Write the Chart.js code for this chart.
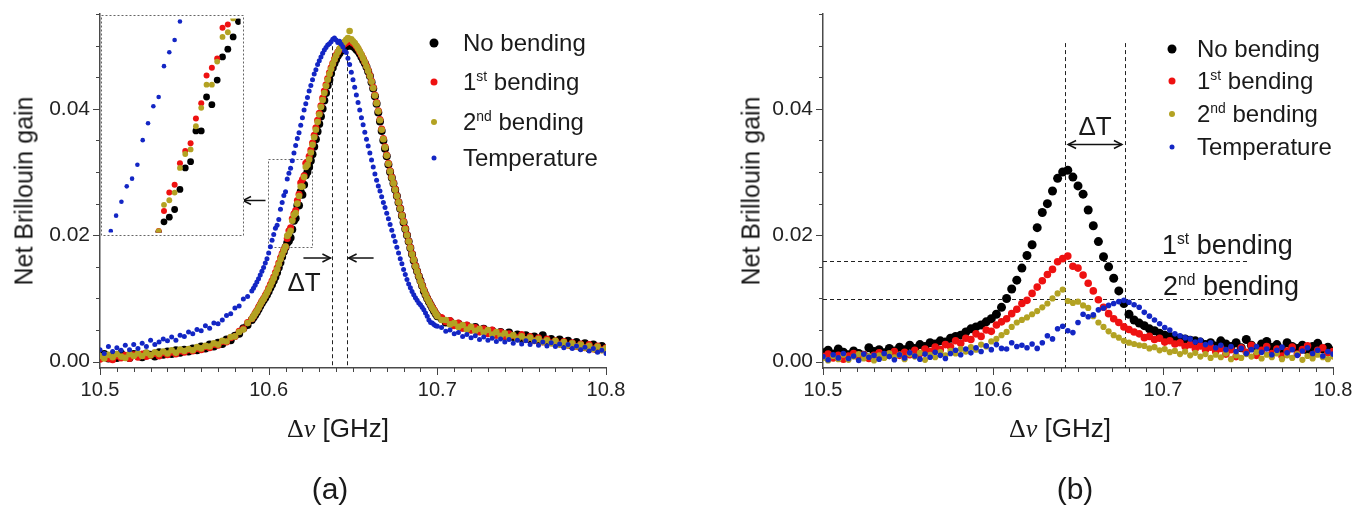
<!DOCTYPE html>
<html>
<head>
<meta charset="utf-8">
<title>Net Brillouin gain</title>
<script src="https://cdn.jsdelivr.net/npm/chart.js@4.4.1/dist/chart.umd.min.js"></script>
<style>
  body { margin: 0; background: #fff; }
  #page { position: relative; width: 1364px; height: 509px; overflow: hidden; background: #fff;
          font-family: "Liberation Sans", Arial, sans-serif; color: #1a1a1a; }
  canvas { position: absolute; top: 0; }
  .t { position: absolute; white-space: nowrap; line-height: 1; transform: translate(-50%, -50%); }
  .l { position: absolute; white-space: nowrap; line-height: 1; transform: translateY(-50%); font-size: 24px; }
  .ylab { transform: translate(-50%, -50%) rotate(-90deg); font-size: 25px; }
  .xlab { font-size: 26px; }
  .sym { font-family: "Liberation Serif", "DejaVu Serif", serif; }
  .panel { font-size: 30px; }
  .dot { position: absolute; border-radius: 50%; transform: translate(-50%, -50%); }
  sup { font-size: 0.58em; vertical-align: 0.62em; line-height: 0; }
</style>
</head>
<body>
<div id="page">
  <canvas id="chartA" width="682" height="509" style="left:0"></canvas>
  <canvas id="chartB" width="682" height="509" style="left:682px"></canvas>
  <canvas id="insetA" width="143" height="221" style="left:101px;top:15px"></canvas>

  <!-- axis titles -->
  <div class="t ylab" style="left:24px;top:191px">Net Brillouin gain</div>
  <div class="t ylab" style="left:751px;top:191px">Net Brillouin gain</div>
  <div class="t xlab" style="left:338px;top:428px"><span class="sym">Δ<i>ν</i></span> [GHz]</div>
  <div class="t xlab" style="left:1060px;top:428px"><span class="sym">Δ<i>ν</i></span> [GHz]</div>
  <div class="t panel" style="left:330px;top:489px">(a)</div>
  <div class="t panel" style="left:1075px;top:489px">(b)</div>

  <!-- legend (a) -->
  <div class="dot" style="left:434px;top:43px;width:9px;height:9px;background:#000"></div>
  <div class="dot" style="left:434px;top:82px;width:7px;height:7px;background:#ee1111"></div>
  <div class="dot" style="left:434px;top:122px;width:6px;height:6px;background:#b3a222"></div>
  <div class="dot" style="left:434px;top:158px;width:5px;height:5px;background:#1326c4"></div>
  <div class="l" style="left:463px;top:43px">No bending</div>
  <div class="l" style="left:463px;top:82px">1<sup>st</sup> bending</div>
  <div class="l" style="left:463px;top:122px">2<sup>nd</sup> bending</div>
  <div class="l" style="left:463px;top:158px">Temperature</div>

  <!-- legend (b) -->
  <div class="dot" style="left:1172px;top:49px;width:9px;height:9px;background:#000"></div>
  <div class="dot" style="left:1172px;top:81px;width:7px;height:7px;background:#ee1111"></div>
  <div class="dot" style="left:1172px;top:114px;width:6px;height:6px;background:#b3a222"></div>
  <div class="dot" style="left:1172px;top:147px;width:5px;height:5px;background:#1326c4"></div>
  <div class="l" style="left:1197px;top:49px">No bending</div>
  <div class="l" style="left:1197px;top:81px">1<sup>st</sup> bending</div>
  <div class="l" style="left:1197px;top:114px">2<sup>nd</sup> bending</div>
  <div class="l" style="left:1197px;top:147px">Temperature</div>

  <!-- annotations -->
  <div class="t xlab" style="left:304px;top:282px">ΔT</div>
  <div class="t xlab" style="left:1095px;top:126px">ΔT</div>
  <div class="l" style="left:1162px;top:245px;font-size:27px">1<sup>st</sup> bending</div>
  <div class="l" style="left:1163px;top:286px;font-size:27px">2<sup>nd</sup> bending</div>
</div>

<script>
/**
 * Net Brillouin gain spectra, (a) and (b)
 */

// ---- axes ----
const xTicks = [10.5, 10.6, 10.7, 10.8];
const yTicks = [0.00, 0.02, 0.04];

// ---- panel (a): frequency grid [GHz] ----
const freqA = [
    // left tail
    10.5000, 10.5025, 10.5050, 10.5075, 10.5100, 10.5125, 10.5150, 10.5175, 10.5200, 10.5225,
    10.5250, 10.5275, 10.5300, 10.5325, 10.5350, 10.5375, 10.5400, 10.5425, 10.5450, 10.5475,
    10.5500, 10.5525, 10.5550, 10.5575, 10.5600, 10.5625, 10.5650, 10.5675, 10.5700, 10.5725,
    10.5750, 10.5775, 10.5800, 10.5825, 10.5850, 10.5875,
    // peak region
    10.590, 10.591, 10.592, 10.593, 10.594, 10.595, 10.596, 10.597, 10.598, 10.599,
    10.600, 10.601, 10.602, 10.603, 10.604, 10.605, 10.606, 10.607, 10.608, 10.609,
    10.610, 10.611, 10.612, 10.613, 10.614, 10.615, 10.616, 10.617, 10.618, 10.619,
    10.620, 10.621, 10.622, 10.623, 10.624, 10.625, 10.626, 10.627, 10.628, 10.629,
    10.630, 10.631, 10.632, 10.633, 10.634, 10.635, 10.636, 10.637, 10.638, 10.639,
    10.640, 10.641, 10.642, 10.643, 10.644, 10.645, 10.646, 10.647, 10.648, 10.649,
    10.650, 10.651, 10.652, 10.653, 10.654, 10.655, 10.656, 10.657, 10.658, 10.659,
    10.660, 10.661, 10.662, 10.663, 10.664, 10.665, 10.666, 10.667, 10.668, 10.669,
    10.670, 10.671, 10.672, 10.673, 10.674, 10.675, 10.676, 10.677, 10.678, 10.679,
    10.680, 10.681, 10.682, 10.683, 10.684, 10.685, 10.686, 10.687, 10.688, 10.689,
    10.690, 10.691, 10.692, 10.693, 10.694, 10.695, 10.696, 10.697, 10.698, 10.699,
    10.700,
    // right tail
    10.7025, 10.7050, 10.7075, 10.7100, 10.7125, 10.7150, 10.7175, 10.7200, 10.7225, 10.7250,
    10.7275, 10.7300, 10.7325, 10.7350, 10.7375, 10.7400, 10.7425, 10.7450, 10.7475, 10.7500,
    10.7525, 10.7550, 10.7575, 10.7600, 10.7625, 10.7650, 10.7675, 10.7700, 10.7725, 10.7750,
    10.7775, 10.7800, 10.7825, 10.7850, 10.7875, 10.7900, 10.7925, 10.7950, 10.7975, 10.8000
];

const noBendA = [
    0.0007, 0.0012, 0.0005, 0.0010, 0.0006, 0.0013, 0.0009, 0.0006, 0.0012, 0.0010,
    0.0007, 0.0013, 0.0011, 0.0008, 0.0015, 0.0011, 0.0016, 0.0012, 0.0018, 0.0014,
    0.0019, 0.0016, 0.0021, 0.0018, 0.0024, 0.0021, 0.0027, 0.0024, 0.0030, 0.0028,
    0.0035, 0.0034, 0.0041, 0.0044, 0.0053, 0.0058,

    0.0066, 0.0070, 0.0074, 0.0078, 0.0083, 0.0088, 0.0093, 0.0097, 0.0101, 0.0106,
    0.0111, 0.0117, 0.0122, 0.0128, 0.0134, 0.0141, 0.0149, 0.0157, 0.0166, 0.0174,
    0.0181, 0.0188, 0.0191, 0.0196, 0.0209, 0.0223, 0.0227, 0.0247, 0.0247, 0.0269,
    0.0264, 0.0280, 0.0295, 0.0300, 0.0308, 0.0318, 0.0328, 0.0340, 0.0352, 0.0364,
    0.0376, 0.0388, 0.0400, 0.0413, 0.0425, 0.0437, 0.0446, 0.0456, 0.0465, 0.0472,
    0.0478, 0.0484, 0.0488, 0.0492, 0.0495, 0.0497, 0.0499, 0.0500, 0.0500, 0.0500,
    0.0499, 0.0497, 0.0494, 0.0491, 0.0487, 0.0482, 0.0477, 0.0472, 0.0466, 0.0459,
    0.0452, 0.0442, 0.0432, 0.0420, 0.0408, 0.0394, 0.0380, 0.0365, 0.0350, 0.0337,
    0.0325, 0.0312, 0.0300, 0.0291, 0.0282, 0.0272, 0.0262, 0.0252, 0.0242, 0.0231,
    0.0220, 0.0210, 0.0200, 0.0190, 0.0180, 0.0170, 0.0160, 0.0151, 0.0143, 0.0135,
    0.0128, 0.0120, 0.0112, 0.0106, 0.0100, 0.0095, 0.0090, 0.0085, 0.0080, 0.0076,
    0.0072,

    0.0068, 0.0062, 0.0064, 0.0058, 0.0060, 0.0054, 0.0057, 0.0051, 0.0055, 0.0048,
    0.0052, 0.0046, 0.0049, 0.0043, 0.0047, 0.0041, 0.0046, 0.0039, 0.0043, 0.0036,
    0.0042, 0.0035, 0.0040, 0.0033, 0.0042, 0.0031, 0.0036, 0.0029, 0.0035, 0.0027,
    0.0033, 0.0025, 0.0031, 0.0023, 0.0029, 0.0021, 0.0027, 0.0019, 0.0025, 0.0020
];

const bend1A = [
    0.0004, 0.0008, 0.0005, 0.0003, 0.0009, 0.0006, 0.0010, 0.0005, 0.0011, 0.0007,
    0.0012, 0.0008, 0.0010, 0.0013, 0.0009, 0.0014, 0.0011, 0.0015, 0.0012, 0.0017,
    0.0015, 0.0019, 0.0017, 0.0021, 0.0019, 0.0024, 0.0022, 0.0027, 0.0026, 0.0032,
    0.0031, 0.0038, 0.0040, 0.0048, 0.0052, 0.0062,

    0.0068, 0.0072, 0.0077, 0.0081, 0.0086, 0.0091, 0.0096, 0.0100, 0.0105, 0.0110,
    0.0116, 0.0122, 0.0128, 0.0134, 0.0141, 0.0148, 0.0156, 0.0164, 0.0171, 0.0177,
    0.0182, 0.0195, 0.0207, 0.0212, 0.0226, 0.0234, 0.0239, 0.0255, 0.0265, 0.0283,
    0.0288, 0.0294, 0.0314, 0.0316, 0.0325, 0.0335, 0.0346, 0.0358, 0.0370, 0.0382,
    0.0393, 0.0405, 0.0417, 0.0428, 0.0438, 0.0448, 0.0457, 0.0465, 0.0472, 0.0479,
    0.0485, 0.0490, 0.0494, 0.0498, 0.0501, 0.0503, 0.0505, 0.0506, 0.0507, 0.0506,
    0.0504, 0.0502, 0.0499, 0.0495, 0.0490, 0.0485, 0.0480, 0.0474, 0.0468, 0.0461,
    0.0453, 0.0444, 0.0434, 0.0422, 0.0410, 0.0397, 0.0383, 0.0368, 0.0353, 0.0340,
    0.0327, 0.0314, 0.0302, 0.0292, 0.0283, 0.0273, 0.0263, 0.0253, 0.0243, 0.0232,
    0.0222, 0.0211, 0.0201, 0.0191, 0.0181, 0.0171, 0.0162, 0.0152, 0.0144, 0.0136,
    0.0128, 0.0121, 0.0114, 0.0107, 0.0101, 0.0096, 0.0091, 0.0086, 0.0082, 0.0077,
    0.0073,

    0.0070, 0.0063, 0.0065, 0.0057, 0.0061, 0.0053, 0.0058, 0.0050, 0.0054, 0.0047,
    0.0052, 0.0044, 0.0050, 0.0042, 0.0047, 0.0040, 0.0044, 0.0041, 0.0038, 0.0043,
    0.0035, 0.0040, 0.0033, 0.0038, 0.0031, 0.0036, 0.0030, 0.0033, 0.0028, 0.0032,
    0.0026, 0.0030, 0.0024, 0.0028, 0.0022, 0.0027, 0.0020, 0.0025, 0.0019, 0.0022
];

const bend2A = [
    0.0009, 0.0005, 0.0011, 0.0007, 0.0012, 0.0008, 0.0006, 0.0012, 0.0009, 0.0013,
    0.0009, 0.0014, 0.0010, 0.0015, 0.0012, 0.0016, 0.0013, 0.0018, 0.0014, 0.0019,
    0.0017, 0.0020, 0.0018, 0.0023, 0.0021, 0.0025, 0.0024, 0.0029, 0.0027, 0.0033,
    0.0032, 0.0039, 0.0040, 0.0047, 0.0051, 0.0061,

    0.0068, 0.0072, 0.0076, 0.0080, 0.0085, 0.0090, 0.0095, 0.0099, 0.0104, 0.0109,
    0.0114, 0.0120, 0.0126, 0.0132, 0.0139, 0.0146, 0.0154, 0.0162, 0.0169, 0.0176,
    0.0182, 0.0199, 0.0202, 0.0207, 0.0223, 0.0232, 0.0235, 0.0250, 0.0262, 0.0277,
    0.0277, 0.0292, 0.0308, 0.0311, 0.0320, 0.0331, 0.0343, 0.0355, 0.0367, 0.0379,
    0.0391, 0.0403, 0.0414, 0.0425, 0.0436, 0.0446, 0.0455, 0.0463, 0.0471, 0.0478,
    0.0484, 0.0490, 0.0495, 0.0499, 0.0503, 0.0506, 0.0509, 0.0512, 0.0523, 0.0510,
    0.0507, 0.0504, 0.0500, 0.0496, 0.0491, 0.0486, 0.0480, 0.0474, 0.0467, 0.0460,
    0.0452, 0.0443, 0.0433, 0.0421, 0.0409, 0.0396, 0.0382, 0.0367, 0.0352, 0.0339,
    0.0326, 0.0313, 0.0301, 0.0291, 0.0282, 0.0272, 0.0262, 0.0252, 0.0242, 0.0231,
    0.0221, 0.0210, 0.0200, 0.0190, 0.0180, 0.0170, 0.0161, 0.0151, 0.0143, 0.0135,
    0.0127, 0.0120, 0.0113, 0.0106, 0.0100, 0.0095, 0.0090, 0.0085, 0.0081, 0.0076,
    0.0072,

    0.0066, 0.0066, 0.0059, 0.0061, 0.0055, 0.0058, 0.0051, 0.0055, 0.0049, 0.0052,
    0.0046, 0.0050, 0.0043, 0.0047, 0.0041, 0.0045, 0.0039, 0.0042, 0.0036, 0.0040,
    0.0035, 0.0038, 0.0033, 0.0036, 0.0031, 0.0034, 0.0029, 0.0033, 0.0027, 0.0031,
    0.0026, 0.0029, 0.0024, 0.0027, 0.0022, 0.0025, 0.0020, 0.0024, 0.0018, 0.0021
];

const tempA = [
    0.0019, 0.0013, 0.0024, 0.0016, 0.0022, 0.0018, 0.0026, 0.0019, 0.0027, 0.0021,
    0.0029, 0.0024, 0.0034, 0.0027, 0.0031, 0.0036, 0.0033, 0.0039, 0.0034, 0.0042,
    0.0040, 0.0047, 0.0044, 0.0051, 0.0049, 0.0057, 0.0053, 0.0061, 0.0060, 0.0066,
    0.0073, 0.0076, 0.0085, 0.0088, 0.0099, 0.0103,

    0.0112, 0.0116, 0.0121, 0.0126, 0.0131, 0.0137, 0.0143, 0.0149, 0.0156, 0.0163,
    0.0172, 0.0182, 0.0192, 0.0201, 0.0211, 0.0216, 0.0225, 0.0241, 0.0252, 0.0263,
    0.0269, 0.0289, 0.0298, 0.0306, 0.0318, 0.0330, 0.0342, 0.0353, 0.0362, 0.0374,
    0.0386, 0.0398, 0.0408, 0.0418, 0.0428, 0.0437, 0.0446, 0.0455, 0.0462, 0.0470,
    0.0476, 0.0482, 0.0488, 0.0493, 0.0497, 0.0501, 0.0503, 0.0506, 0.0510, 0.0512,
    0.0509, 0.0505, 0.0507, 0.0502, 0.0498, 0.0492, 0.0489, 0.0480, 0.0470, 0.0458,
    0.0446, 0.0434, 0.0422, 0.0410, 0.0398, 0.0386, 0.0375, 0.0363, 0.0352, 0.0341,
    0.0330, 0.0319, 0.0308, 0.0297, 0.0287, 0.0278, 0.0270, 0.0261, 0.0252, 0.0244,
    0.0235, 0.0226, 0.0217, 0.0208, 0.0199, 0.0190, 0.0181, 0.0172, 0.0163, 0.0155,
    0.0146, 0.0138, 0.0130, 0.0123, 0.0117, 0.0111, 0.0106, 0.0101, 0.0097, 0.0093,
    0.0090, 0.0086, 0.0082, 0.0077, 0.0072, 0.0066, 0.0062, 0.0061, 0.0059, 0.0057,
    0.0056,

    0.0054, 0.0048, 0.0050, 0.0044, 0.0046, 0.0040, 0.0043, 0.0038, 0.0041, 0.0035,
    0.0039, 0.0034, 0.0037, 0.0032, 0.0036, 0.0031, 0.0035, 0.0029, 0.0034, 0.0028,
    0.0033, 0.0027, 0.0032, 0.0026, 0.0031, 0.0025, 0.0030, 0.0024, 0.0028, 0.0022,
    0.0027, 0.0021, 0.0025, 0.0019, 0.0023, 0.0017, 0.0021, 0.0015, 0.0018, 0.0013
];

// ---- panel (b): frequency grid [GHz] ----
const freqB = [
    10.500, 10.503, 10.506, 10.509, 10.512, 10.515, 10.518, 10.521, 10.524, 10.527,
    10.530, 10.533, 10.536, 10.539, 10.542, 10.545, 10.548, 10.551, 10.554, 10.557,
    10.560, 10.563, 10.566, 10.569, 10.572, 10.575, 10.578, 10.581, 10.584, 10.587,
    10.590, 10.593, 10.596, 10.599, 10.602, 10.605, 10.608, 10.611, 10.614, 10.617,
    10.620, 10.623, 10.626, 10.629, 10.632, 10.635, 10.638, 10.641, 10.644, 10.647,
    10.650, 10.653, 10.656, 10.659, 10.662, 10.665, 10.668, 10.671, 10.674, 10.677,
    10.680, 10.683, 10.686, 10.689, 10.692, 10.695, 10.698, 10.701, 10.704, 10.707,
    10.710, 10.713, 10.716, 10.719, 10.722, 10.725, 10.728, 10.731, 10.734, 10.737,
    10.740, 10.743, 10.746, 10.749, 10.752, 10.755, 10.758, 10.761, 10.764, 10.767,
    10.770, 10.773, 10.776, 10.779, 10.782, 10.785, 10.788, 10.791, 10.794, 10.797,
    10.800
];

const noBendB = [
    0.0014, 0.0018, 0.0012, 0.0020, 0.0015, 0.0011, 0.0017, 0.0013, 0.0010, 0.0022,
    0.0016, 0.0019, 0.0014, 0.0021, 0.0017, 0.0023, 0.0019, 0.0026, 0.0021, 0.0027,
    0.0024, 0.0030, 0.0028, 0.0033, 0.0031, 0.0037, 0.0040, 0.0042, 0.0047, 0.0052,
    0.0055, 0.0058, 0.0063, 0.0068, 0.0075, 0.0086, 0.0100, 0.0115, 0.0129, 0.0148,
    0.0168, 0.0185, 0.0212, 0.0236, 0.0250, 0.0270, 0.0290, 0.0300, 0.0303, 0.0292,
    0.0278, 0.0265, 0.0240, 0.0215, 0.0190, 0.0166, 0.0150, 0.0132, 0.0112, 0.0092,
    0.0075, 0.0066, 0.0061, 0.0057, 0.0052, 0.0049, 0.0045, 0.0042, 0.0040, 0.0038,
    0.0037, 0.0036, 0.0034, 0.0033, 0.0031, 0.0027, 0.0030, 0.0025, 0.0033, 0.0028,
    0.0024, 0.0030, 0.0022, 0.0035, 0.0026, 0.0021, 0.0028, 0.0032, 0.0023, 0.0027,
    0.0019, 0.0030, 0.0024, 0.0021, 0.0026, 0.0018, 0.0024, 0.0029, 0.0020, 0.0023,
    0.0017
];

const bend1B = [
    0.0008, 0.0012, 0.0006, 0.0010, 0.0004, 0.0009, 0.0013, 0.0007, 0.0011, 0.0005,
    0.0010, 0.0014, 0.0008, 0.0012, 0.0016, 0.0010, 0.0015, 0.0011, 0.0018, 0.0013,
    0.0020, 0.0016, 0.0023, 0.0019, 0.0027, 0.0024, 0.0033, 0.0029, 0.0037, 0.0035,
    0.0044, 0.0040, 0.0050, 0.0048, 0.0058, 0.0063, 0.0068, 0.0076, 0.0083, 0.0092,
    0.0097, 0.0108, 0.0118, 0.0128, 0.0138, 0.0146, 0.0158, 0.0163, 0.0167, 0.0151,
    0.0148, 0.0137, 0.0124, 0.0112, 0.0098, 0.0086, 0.0076, 0.0068, 0.0062, 0.0055,
    0.0051, 0.0047, 0.0044, 0.0038, 0.0040, 0.0035, 0.0037, 0.0031, 0.0033, 0.0028,
    0.0030, 0.0024, 0.0027, 0.0021, 0.0025, 0.0019, 0.0023, 0.0016, 0.0021, 0.0012,
    0.0019, 0.0008, 0.0022, 0.0015, 0.0026, 0.0010, 0.0018, 0.0024, 0.0013, 0.0020,
    0.0009, 0.0017, 0.0023, 0.0012, 0.0019, 0.0025, 0.0011, 0.0018, 0.0022, 0.0014,
    0.0016
];

const bend2B = [
    0.0006, 0.0002, 0.0009, 0.0004, 0.0011, 0.0003, 0.0008, 0.0012, 0.0005, 0.0009,
    0.0002, 0.0010, 0.0006, 0.0013, 0.0007, 0.0011, 0.0004, 0.0012, 0.0008, 0.0014,
    0.0003, 0.0011, 0.0007, 0.0015, 0.0010, 0.0017, 0.0013, 0.0020, 0.0016, 0.0023,
    0.0019, 0.0027, 0.0024, 0.0032, 0.0036, 0.0042, 0.0047, 0.0055, 0.0062, 0.0066,
    0.0070, 0.0075, 0.0080, 0.0086, 0.0092, 0.0100, 0.0108, 0.0114, 0.0096, 0.0093,
    0.0095, 0.0089, 0.0085, 0.0072, 0.0062, 0.0055, 0.0048, 0.0042, 0.0038, 0.0033,
    0.0030, 0.0028, 0.0026, 0.0025, 0.0021, 0.0023, 0.0018, 0.0020, 0.0015, 0.0017,
    0.0012, 0.0016, 0.0010, 0.0014, 0.0008, 0.0012, 0.0006, 0.0011, 0.0007, 0.0013,
    0.0004, 0.0010, 0.0006, 0.0012, 0.0008, 0.0015, 0.0005, 0.0011, 0.0007, 0.0013,
    0.0004, 0.0010, 0.0006, 0.0012, 0.0003, 0.0009, 0.0005, 0.0011, 0.0007, 0.0004,
    0.0008
];

const tempB = [
    0.0008, 0.0003, 0.0011, 0.0006, 0.0013, 0.0005, 0.0009, 0.0002, 0.0012, 0.0007,
    0.0010, 0.0004, 0.0013, 0.0008, 0.0003, 0.0011, 0.0006, 0.0014, 0.0009, 0.0004,
    0.0012, 0.0007, 0.0015, 0.0010, 0.0005, 0.0013, 0.0018, 0.0011, 0.0020, 0.0014,
    0.0022, 0.0016, 0.0025, 0.0019, 0.0027, 0.0021, 0.0020, 0.0030, 0.0024, 0.0026,
    0.0022, 0.0028, 0.0021, 0.0030, 0.0041, 0.0036, 0.0052, 0.0056, 0.0049, 0.0046,
    0.0062, 0.0075, 0.0071, 0.0074, 0.0082, 0.0085, 0.0089, 0.0092, 0.0095, 0.0097,
    0.0094, 0.0090, 0.0086, 0.0078, 0.0072, 0.0066, 0.0060, 0.0054, 0.0050, 0.0044,
    0.0041, 0.0038, 0.0036, 0.0031, 0.0034, 0.0027, 0.0030, 0.0022, 0.0026, 0.0019,
    0.0024, 0.0016, 0.0021, 0.0013, 0.0019, 0.0024, 0.0015, 0.0020, 0.0011, 0.0018,
    0.0023, 0.0014, 0.0019, 0.0010, 0.0017, 0.0022, 0.0013, 0.0018, 0.0009, 0.0016,
    0.0012
];

// ---- annotation positions (data units) ----
const shiftA = [10.6378, 10.6462];       // peak markers, panel (a)
const shiftTopA = 0.0499;
const arrowLevelA = 0.0164;
const zoomBox = { f0: 10.5998, f1: 10.6254, g0: 0.0181, g1: 0.0320 };  // region shown in the inset
const shiftB = [10.6424, 10.6776];       // peak markers, panel (b)
const shiftTopB = 0.0504;
const arrowLevelB = 0.0345;
const bendLevels = [0.0160, 0.0099];     // 1st / 2nd bending peak gains
const bendLineEnd = 10.751;

const FONT = '"Liberation Sans", Arial, sans-serif';
const COL_NONE = '#000000';
const COL_B1 = '#ee1111';
const COL_B2 = '#b3a222';
const COL_T = '#1326c4';

Chart.defaults.font.family = FONT;

function toPoints(freq, vals, keep) {
    const pts = freq.map((f, i) => ({ x: f, y: vals[i] }));
    return keep ? pts.filter(keep) : pts;
}

function makeDatasets(freq, sets, radii, keep) {
    return [
        { label: 'No bending', data: toPoints(freq, sets[0], keep), backgroundColor: COL_NONE, pointRadius: radii[0], order: 4 },
        { label: '1st bending', data: toPoints(freq, sets[1], keep), backgroundColor: COL_B1, pointRadius: radii[1], order: 3 },
        { label: '2nd bending', data: toPoints(freq, sets[2], keep), backgroundColor: COL_B2, pointRadius: radii[2], order: 2 },
        { label: 'Temperature', data: toPoints(freq, sets[3], keep), backgroundColor: COL_T, pointRadius: radii[3], order: 1 }
    ].map(d => Object.assign(d, { borderWidth: 0, pointHoverRadius: d.pointRadius, showLine: false }));
}

// small outward tick marks: majors from the tick arrays, minors in between
const tickMarks = {
    id: 'tickMarks',
    afterDraw(chart) {
        const { ctx, chartArea: a, scales: { x, y } } = chart;
        ctx.save();
        ctx.strokeStyle = '#444';
        ctx.lineWidth = 1;
        ctx.beginPath();
        for (let i = 0; i <= 30; i++) {
            const px = Math.round(x.getPixelForValue(10.5 + i * 0.01)) + 0.5;
            ctx.moveTo(px, a.bottom);
            ctx.lineTo(px, a.bottom + (i % 10 === 0 ? 7 : 4));
        }
        for (let i = 0; i <= 11; i++) {
            const py = Math.round(y.getPixelForValue(i * 0.005)) + 0.5;
            ctx.moveTo(a.left, py);
            ctx.lineTo(a.left - (i % 4 === 0 ? 7 : 4), py);
        }
        ctx.stroke();
        ctx.restore();
    }
};

function line(ctx, x1, y1, x2, y2) {
    ctx.beginPath();
    ctx.moveTo(x1, y1);
    ctx.lineTo(x2, y2);
    ctx.stroke();
}

function arrow(ctx, x1, y, x2) {
    const dir = x2 > x1 ? 1 : -1;
    ctx.save();
    ctx.setLineDash([]);
    ctx.strokeStyle = '#111';
    ctx.lineWidth = 1.5;
    line(ctx, x1, y, x2, y);
    ctx.beginPath();
    ctx.moveTo(x2 - dir * 8, y - 4);
    ctx.lineTo(x2, y);
    ctx.lineTo(x2 - dir * 8, y + 4);
    ctx.stroke();
    ctx.restore();
}

const notesA = {
    id: 'notesA',
    beforeDatasetsDraw(chart) {
        const { ctx, chartArea: a, scales: { x, y } } = chart;
        ctx.save();
        ctx.strokeStyle = '#222';
        ctx.lineWidth = 1;
        ctx.setLineDash([4, 3]);
        shiftA.forEach(f => {
            const px = Math.round(x.getPixelForValue(f)) + 0.5;
            line(ctx, px, y.getPixelForValue(shiftTopA), px, a.bottom);
        });
        ctx.strokeStyle = '#666';
        ctx.setLineDash([2, 2]);
        const bx0 = Math.round(x.getPixelForValue(zoomBox.f0)) + 0.5;
        const bx1 = Math.round(x.getPixelForValue(zoomBox.f1)) + 0.5;
        const by0 = Math.round(y.getPixelForValue(zoomBox.g1)) + 0.5;
        const by1 = Math.round(y.getPixelForValue(zoomBox.g0)) + 0.5;
        ctx.strokeRect(bx0, by0, bx1 - bx0, by1 - by0);
        const ay = y.getPixelForValue(arrowLevelA);
        const l = x.getPixelForValue(shiftA[0]);
        const r = x.getPixelForValue(shiftA[1]);
        arrow(ctx, l - 29, ay, l - 2);
        arrow(ctx, r + 27, ay, r + 2);
        // pointer from the zoomed region to the inset
        arrow(ctx, bx0 - 3, y.getPixelForValue(0.0255), 243);
        ctx.restore();
    }
};

const notesB = {
    id: 'notesB',
    beforeDatasetsDraw(chart) {
        const { ctx, chartArea: a, scales: { x, y } } = chart;
        ctx.save();
        ctx.strokeStyle = '#222';
        ctx.lineWidth = 1;
        ctx.setLineDash([4, 3]);
        shiftB.forEach(f => {
            const px = Math.round(x.getPixelForValue(f)) + 0.5;
            line(ctx, px, y.getPixelForValue(shiftTopB), px, a.bottom);
        });
        bendLevels.forEach(g => {
            const py = Math.round(y.getPixelForValue(g)) + 0.5;
            line(ctx, a.left, py, x.getPixelForValue(bendLineEnd), py);
        });
        const ay = Math.round(y.getPixelForValue(arrowLevelB)) + 0.5;
        const l = x.getPixelForValue(shiftB[0]);
        const r = x.getPixelForValue(shiftB[1]);
        const mid = (l + r) / 2;
        arrow(ctx, mid, ay, l + 3);
        arrow(ctx, mid, ay, r - 3);
        ctx.restore();
    }
};

const insetFrame = {
    id: 'insetFrame',
    beforeDraw(chart) {
        const { ctx, width, height } = chart;
        ctx.save();
        ctx.fillStyle = '#fff';
        ctx.fillRect(0, 0, width, height);
        ctx.strokeStyle = '#666';
        ctx.lineWidth = 1;
        ctx.setLineDash([2, 2]);
        ctx.strokeRect(0.5, 0.5, width - 1, height - 1);
        ctx.restore();
    }
};

function mainOptions(yWidth, padRight) {
    const border = { display: true, color: '#4a4a4a', width: 1.5 };
    return {
        responsive: false,
        animation: false,
        devicePixelRatio: 1,
        events: [],
        layout: { padding: { top: 14, right: padRight, left: 0, bottom: 0 } },
        plugins: { legend: { display: false }, tooltip: { enabled: false } },
        scales: {
            x: {
                type: 'linear', min: 10.5, max: 10.8,
                afterBuildTicks: s => { s.ticks = xTicks.map(v => ({ value: v })); },
                afterFit: s => { s.height = 141; s.paddingLeft = 0; s.paddingRight = 0; },
                grid: { display: false, drawTicks: false },
                border: border,
                ticks: { autoSkip: false, maxRotation: 0, padding: 10, color: '#222',
                         font: { size: 20 }, callback: v => v.toFixed(1) }
            },
            y: {
                type: 'linear', min: -0.001, max: 0.055,
                afterBuildTicks: s => { s.ticks = yTicks.map(v => ({ value: v })); },
                afterFit: s => { s.width = yWidth; s.paddingTop = 0; s.paddingBottom = 0; },
                grid: { display: false, drawTicks: false },
                border: border,
                ticks: { autoSkip: false, padding: 10, color: '#222',
                         font: { size: 21 }, callback: v => v.toFixed(2) }
            }
        }
    };
}

new Chart(document.getElementById('chartA'), {
    type: 'scatter',
    data: { datasets: makeDatasets(freqA, [noBendA, bend1A, bend2A, tempA], [4.0, 3.5, 3.3, 2.5]) },
    options: mainOptions(100, 76),
    plugins: [notesA, tickMarks]
});

new Chart(document.getElementById('chartB'), {
    type: 'scatter',
    data: { datasets: makeDatasets(freqB, [noBendB, bend1B, bend2B, tempB], [4.5, 3.8, 3.1, 2.8]) },
    options: mainOptions(141, 31),
    plugins: [notesB, tickMarks]
});

// inset: the same panel (a) data, restricted to the dotted region
const inZoom = p => p.x >= zoomBox.f0 && p.x <= zoomBox.f1 && p.y >= zoomBox.g0 && p.y <= zoomBox.g1;
new Chart(document.getElementById('insetA'), {
    type: 'scatter',
    data: { datasets: makeDatasets(freqA, [noBendA, bend1A, bend2A, tempA], [3.4, 3.0, 2.9, 2.3], inZoom) },
    options: {
        responsive: false,
        animation: false,
        devicePixelRatio: 1,
        events: [],
        layout: { padding: 0 },
        plugins: { legend: { display: false }, tooltip: { enabled: false } },
        scales: {
            x: { type: 'linear', display: false, min: zoomBox.f0, max: zoomBox.f1 },
            y: { type: 'linear', display: false, min: zoomBox.g0, max: zoomBox.g1 }
        }
    },
    plugins: [insetFrame]
});
</script>
</body>
</html>
